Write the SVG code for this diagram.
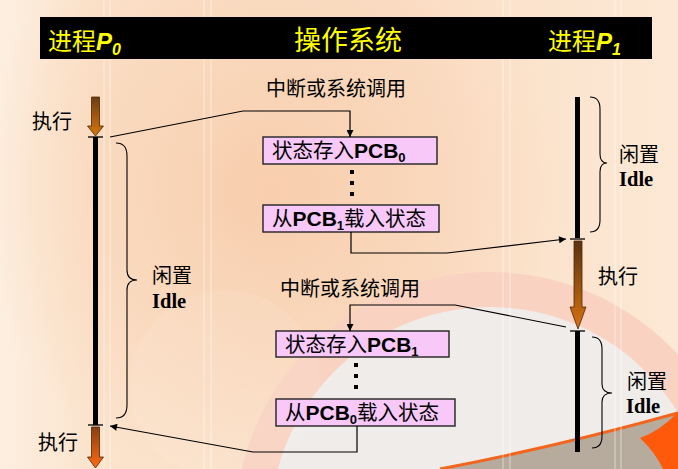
<svg xmlns="http://www.w3.org/2000/svg" width="678" height="469" viewBox="0 0 678 469">
<defs>
<style>
.cjk{font-family:"Noto Sans CJK SC","Liberation Sans",sans-serif;fill:#000}
.hdr{font-family:"Noto Sans CJK SC","Liberation Sans",sans-serif;fill:#ffff00}
.pb{font-family:"Liberation Sans","Noto Sans CJK SC",sans-serif;font-weight:bold}
.idle{font-family:"Liberation Serif",serif;font-weight:bold;font-size:20.5px;fill:#000}
.box{fill:#f8c8f8;stroke:#222;stroke-width:1.4}
.con{fill:none;stroke:#000;stroke-width:1.2;marker-end:url(#ah)}
.brace{fill:none;stroke:#000;stroke-width:1.1}
.tick{stroke:#000;stroke-width:1.3}
.arr{stroke:#4a2a08;stroke-width:0.8}
.stripe{stroke:#ffffff;stroke-opacity:0.35;stroke-width:1.5}
</style>
<marker id="ah" viewBox="0 0 10 10" refX="10" refY="5" markerWidth="9" markerHeight="7" orient="auto" markerUnits="userSpaceOnUse">
<path d="M0,0 L10,5 L0,10 Z" fill="#000"/>
</marker>
<linearGradient id="bgl" x1="0" y1="0" x2="1" y2="0">
<stop offset="0" stop-color="#fdefe0"/>
<stop offset="0.14" stop-color="#fbe3cc"/>
<stop offset="0.6" stop-color="#fbe0c8"/>
<stop offset="1" stop-color="#fce8d4"/>
</linearGradient>
<radialGradient id="glow" cx="270" cy="190" r="300" gradientUnits="userSpaceOnUse">
<stop offset="0" stop-color="#f7c9a6" stop-opacity="0.8"/>
<stop offset="1" stop-color="#f7c9a6" stop-opacity="0"/>
</radialGradient>
<linearGradient id="g1" x1="0" y1="0" x2="0" y2="1">
<stop offset="0" stop-color="#6e3c12"/>
<stop offset="1" stop-color="#d8760e"/>
</linearGradient>
<linearGradient id="g2" x1="0" y1="0" x2="0" y2="1">
<stop offset="0" stop-color="#8a3e12"/>
<stop offset="1" stop-color="#ff6a12"/>
</linearGradient>
<linearGradient id="g3" x1="0" y1="0" x2="0" y2="1">
<stop offset="0" stop-color="#5a3212"/>
<stop offset="1" stop-color="#d8720e"/>
</linearGradient>
</defs>

<g id="background">
<rect x="0" y="0" width="678" height="469" fill="url(#bgl)"/>
<rect x="0" y="0" width="678" height="469" fill="url(#glow)"/>
<circle cx="490" cy="527" r="255" fill="#f9d2c2"/>
<circle cx="490" cy="527" r="220" fill="#f0ece9"/>
<circle cx="225" cy="385" r="95" fill="#ffffff" fill-opacity="0.08"/>
<path d="M440,469 Q560,446 678,413 L678,469 Z" fill="#b6ab9d"/>
<path d="M440,469 Q560,446 678,413" fill="none" stroke="#f2651c" stroke-width="3"/>
<path d="M640,438 Q655,452 663,469 L678,469 L678,412 Q660,431 640,438 Z" fill="#ff5a0c"/>
<line class="stripe" x1="104" y1="0" x2="104" y2="469"/>
<line class="stripe" x1="110" y1="0" x2="110" y2="469"/>
<line class="stripe" x1="204" y1="0" x2="204" y2="469"/>
<line class="stripe" x1="211" y1="0" x2="211" y2="469"/>
<line class="stripe" x1="503" y1="0" x2="503" y2="469"/>
<line class="stripe" x1="510" y1="0" x2="510" y2="469"/>
<line class="stripe" x1="615" y1="0" x2="615" y2="469"/>
<line class="stripe" x1="621" y1="0" x2="621" y2="469"/>
</g>

<g id="header">
<rect x="40" y="17" width="612" height="42" fill="#000"/>
<text class="hdr" x="48" y="50" font-size="24">进程<tspan class="pb" font-style="italic">P</tspan><tspan class="pb" font-style="italic" font-size="16" dy="5">0</tspan></text>
<text class="hdr" x="348" y="50" font-size="27" text-anchor="middle">操作系统</text>
<text class="hdr" x="548" y="50" font-size="24">进程<tspan class="pb" font-style="italic">P</tspan><tspan class="pb" font-style="italic" font-size="16" dy="5">1</tspan></text>
</g>

<g id="p0-timeline">
<rect x="93" y="137" width="5" height="288" fill="#000"/>
<line class="tick" x1="88" y1="137" x2="103" y2="137"/>
<line class="tick" x1="88" y1="425" x2="103" y2="425"/>
<path class="arr" d="M91.5,97 L99.5,97 L99.5,126 L103.5,126 L95.5,136 L87.5,126 L91.5,126 Z" fill="url(#g1)"/>
<path class="arr" d="M91.5,427 L99.5,427 L99.5,457 L103.5,457 L95.5,468 L87.5,457 L91.5,457 Z" fill="url(#g2)"/>
<text class="cjk" x="32" y="129" font-size="20">执行</text>
<text class="cjk" x="38" y="450" font-size="20">执行</text>
<path class="brace" d="M116,143 Q127,143 127,156 L127,270 Q127,280 137,280 Q127,280 127,290 L127,405 Q127,418 116,418"/>
<text class="cjk" x="152" y="283" font-size="20">闲置</text>
<text class="idle" x="152" y="308">Idle</text>
</g>

<g id="p1-timeline">
<rect x="575" y="97" width="5" height="141" fill="#000"/>
<rect x="575" y="331" width="5" height="121" fill="#000"/>
<line class="tick" x1="570" y1="239" x2="585" y2="239"/>
<line class="tick" x1="570" y1="331" x2="585" y2="331"/>
<path class="arr" d="M574,241 L582,241 L582,307 L586,307 L578,329 L570,307 L574,307 Z" fill="url(#g3)"/>
<text class="cjk" x="598" y="284" font-size="20">执行</text>
<path class="brace" d="M590,97 Q600,97 600,109 L600,154 Q600,163 607,163 Q600,163 600,172 L600,220 Q600,232 590,232"/>
<text class="cjk" x="619" y="162" font-size="20">闲置</text>
<text class="idle" x="619" y="186">Idle</text>
<path class="brace" d="M592,337 Q602,337 602,349 L602,384 Q602,393 612,393 Q602,393 602,402 L602,436 Q602,448 592,448"/>
<text class="cjk" x="627" y="389" font-size="20">闲置</text>
<text class="idle" x="626" y="413">Idle</text>
</g>

<g id="os-call-1">
<text class="cjk" x="266" y="96" font-size="20">中断或系统调用</text>
</g>
<g id="box-save-pcb0">
<rect class="box" x="263" y="137" width="174" height="27"/>
<text class="cjk" x="272" y="158" font-size="20.5">状态存入<tspan class="pb" font-size="21">PCB</tspan><tspan class="pb" font-size="13" dy="4">0</tspan></text>
</g>
<g id="dots-1">
<rect x="350" y="170" width="4" height="4" fill="#000"/>
<rect x="350" y="181" width="4" height="4" fill="#000"/>
<rect x="350" y="192" width="4" height="4" fill="#000"/>
</g>
<g id="box-load-pcb1">
<rect class="box" x="263" y="205" width="176" height="27"/>
<text class="cjk" x="272" y="226" font-size="20.5">从<tspan class="pb" font-size="21">PCB</tspan><tspan class="pb" font-size="13" dy="4">1</tspan><tspan dy="-4">载入状态</tspan></text>
</g>

<g id="os-call-2">
<text class="cjk" x="280" y="296" font-size="20">中断或系统调用</text>
</g>
<g id="box-save-pcb1">
<rect class="box" x="276" y="331" width="173" height="26"/>
<text class="cjk" x="285" y="352" font-size="20.5">状态存入<tspan class="pb" font-size="21">PCB</tspan><tspan class="pb" font-size="13" dy="4">1</tspan></text>
</g>
<g id="dots-2">
<rect x="354" y="363" width="4" height="4" fill="#000"/>
<rect x="354" y="374" width="4" height="4" fill="#000"/>
<rect x="354" y="385" width="4" height="4" fill="#000"/>
</g>
<g id="box-load-pcb0">
<rect class="box" x="276" y="399" width="179" height="27"/>
<text class="cjk" x="285" y="420" font-size="20.5">从<tspan class="pb" font-size="21">PCB</tspan><tspan class="pb" font-size="13" dy="4">0</tspan><tspan dy="-4">载入状态</tspan></text>
</g>

<g id="connectors">
<path class="con" d="M110,137 L243,111 L350,111 L350,137"/>
<path class="con" d="M351,232 L351,253 L447,253 L566,239"/>
<path class="con" d="M566,327 L455,305 L350,305 L350,331"/>
<path class="con" d="M357,426 L357,452 L253,452 L110,426"/>
</g>
</svg>
